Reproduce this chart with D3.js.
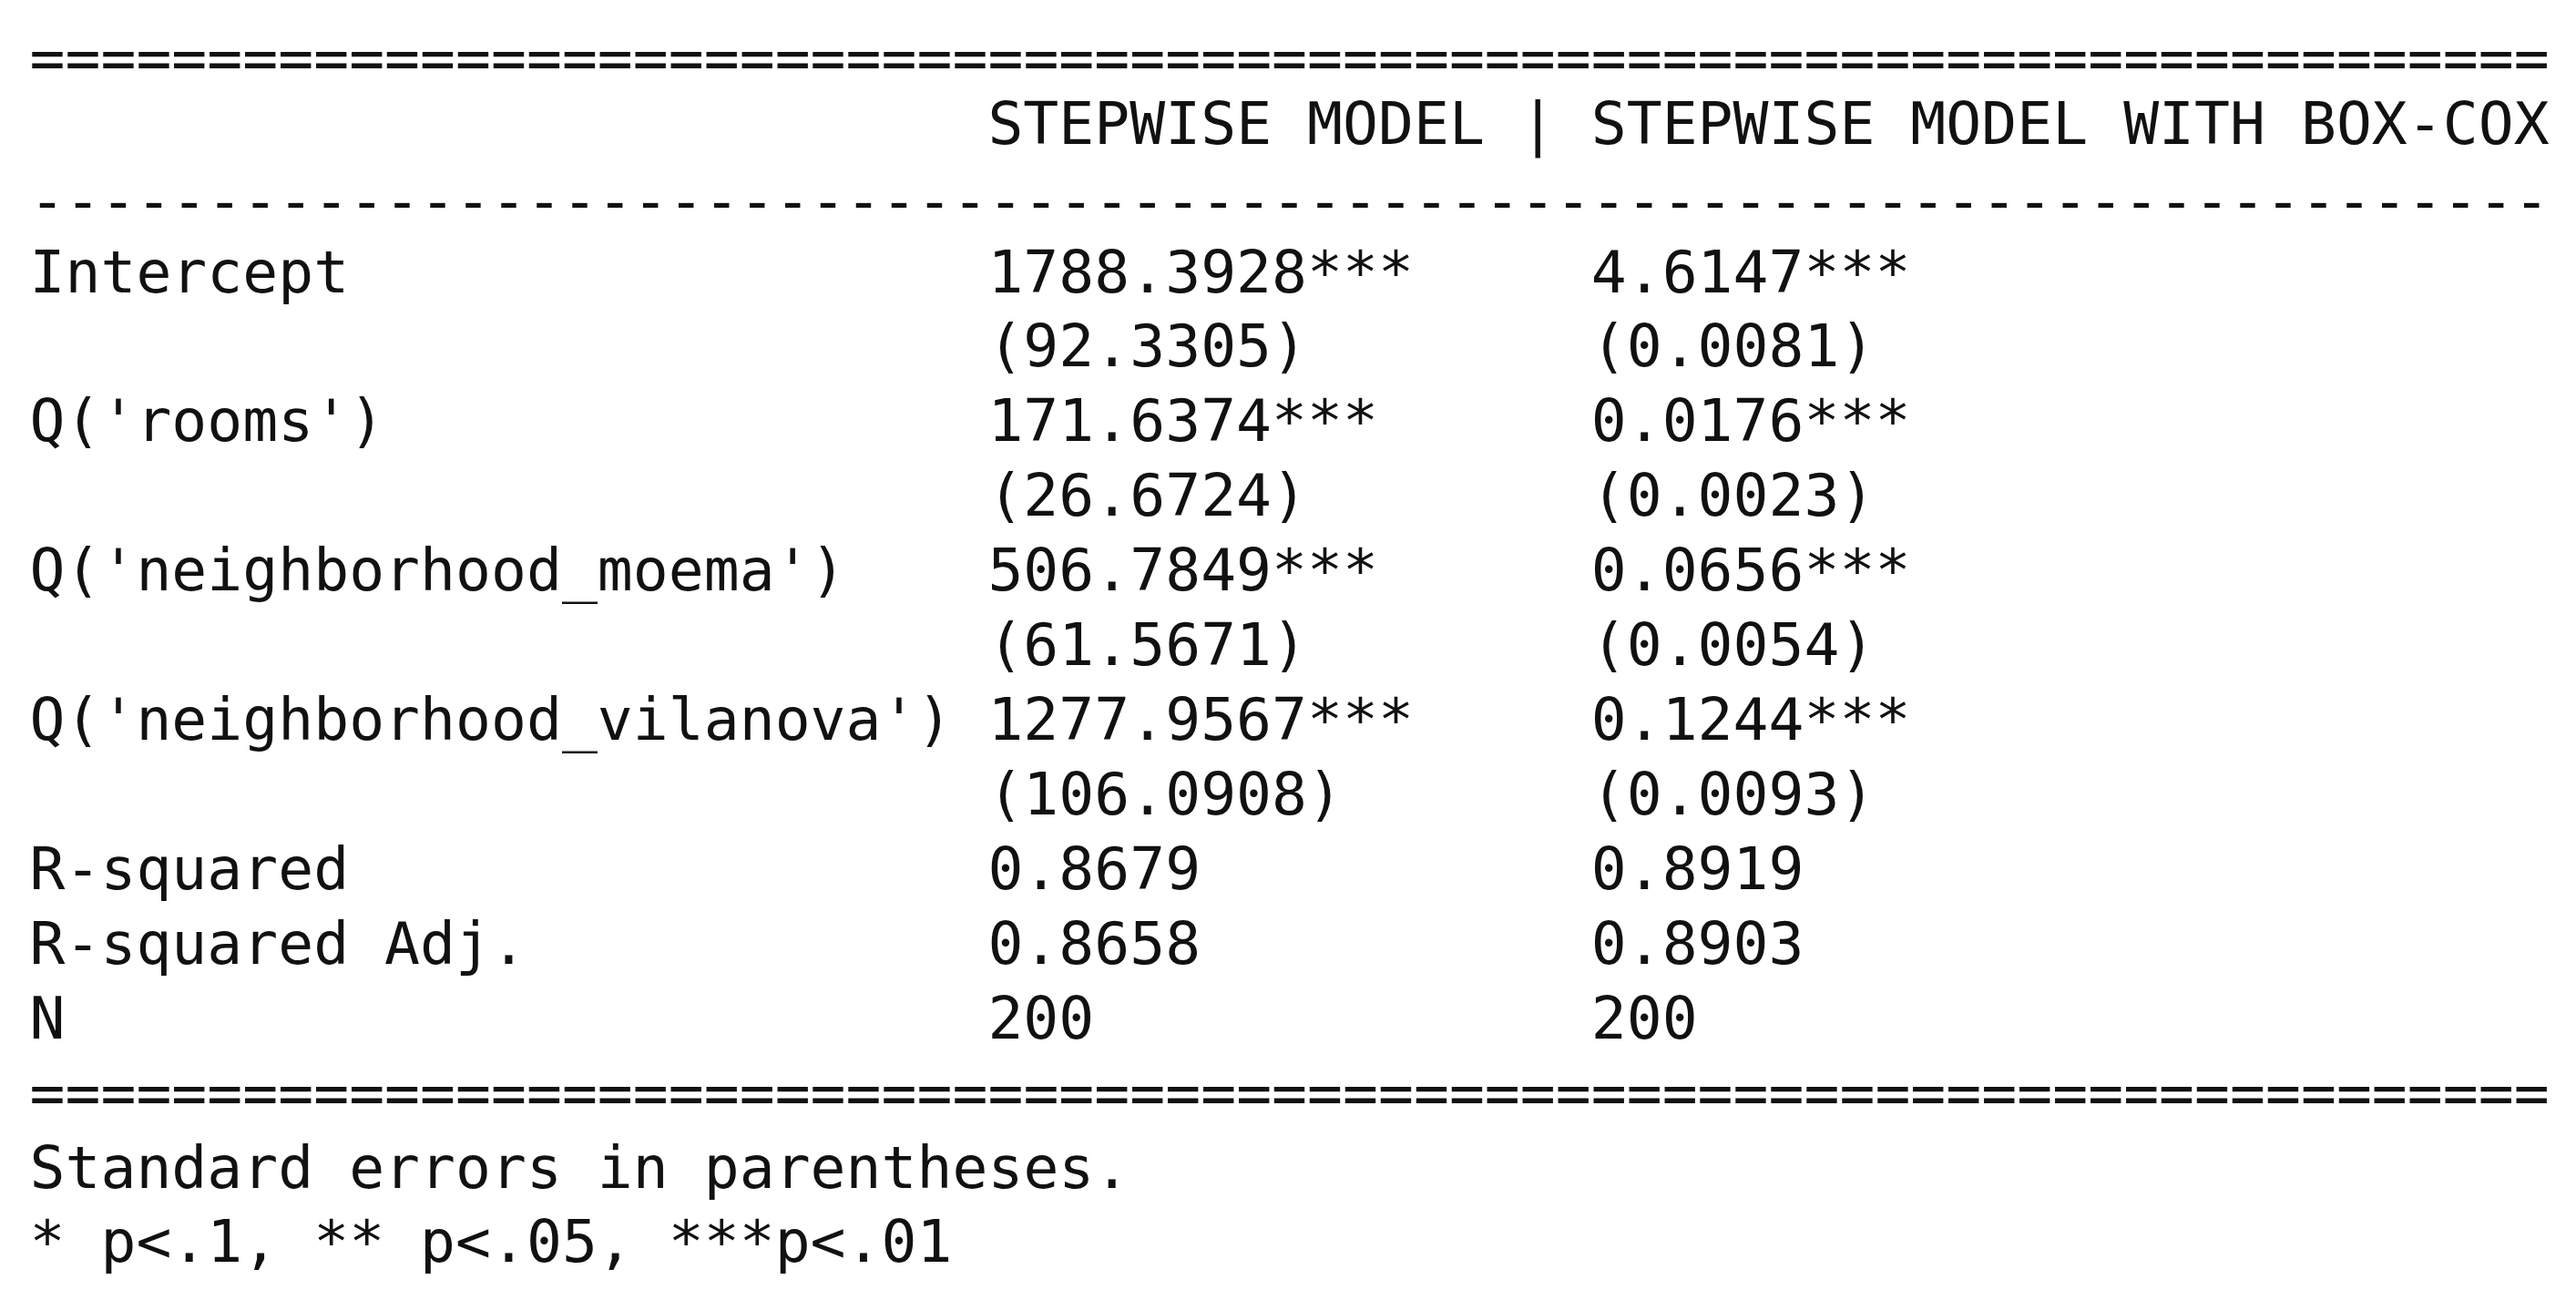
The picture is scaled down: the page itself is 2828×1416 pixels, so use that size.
<!DOCTYPE html>
<html><head><meta charset="utf-8">
<script src="https://cdn.jsdelivr.net/npm/d3@7"></script>
<style>body{margin:0;background:#fff}</style></head>
<body><svg id="c" width="2828" height="1416"></svg>
<script>
const headers = ["STEPWISE MODEL", "STEPWISE MODEL WITH BOX-COX"];
const rowLabels = ["Intercept", "", "Q('rooms')", "", "Q('neighborhood_moema')", "", "Q('neighborhood_vilanova')", "", "R-squared", "R-squared Adj.", "N"];
const model1 = ["1788.3928***", "(92.3305)", "171.6374***", "(26.6724)", "506.7849***", "(61.5671)", "1277.9567***", "(106.0908)", "0.8679", "0.8658", "200"];
const model2 = ["4.6147***", "(0.0081)", "0.0176***", "(0.0023)", "0.0656***", "(0.0054)", "0.1244***", "(0.0093)", "0.8919", "0.8903", "200"];
const notes = ["Standard errors in parentheses.", "* p<.1, ** p<.05, ***p<.01"];

const svg = d3.select("#c");
const cw = 38.96, fs = 64.9, x0 = 32.5, totalChars = 71;
const x = d3.scaleLinear().domain([0, totalChars]).range([x0, x0 + totalChars * cw]);
const y = d3.scaleLinear().domain([0, 1]).range([298, 298 + 81.9]);
const font = "'DejaVu Sans Mono', 'Liberation Mono', monospace";
function txt(s, col, yy, fit) {
  const t = svg.append("text").attr("x", x(col)).attr("y", yy)
    .attr("dominant-baseline", "central").attr("font-family", font)
    .attr("font-size", fs).attr("fill", "#111").attr("xml:space", "preserve")
    .style("white-space", "pre").text(s);
  if (fit) t.attr("textLength", s.length * cw).attr("lengthAdjust", "spacingAndGlyphs");
  return t;
}
txt("=".repeat(totalChars), 0, 63, true);
txt(headers[0] + " | " + headers[1], 27, 135, true);
txt("-".repeat(totalChars), 0, 220, true);
rowLabels.forEach((l, i) => {
  if (l) txt(l, 0, y(i), true);
  txt(model1[i], 27, y(i), true);
  txt(model2[i], 44, y(i), true);
});
txt("=".repeat(totalChars), 0, 1199, true);
txt(notes[0], 0, 1281, true);
txt(notes[1], 0, 1362, true);
</script></body></html>
